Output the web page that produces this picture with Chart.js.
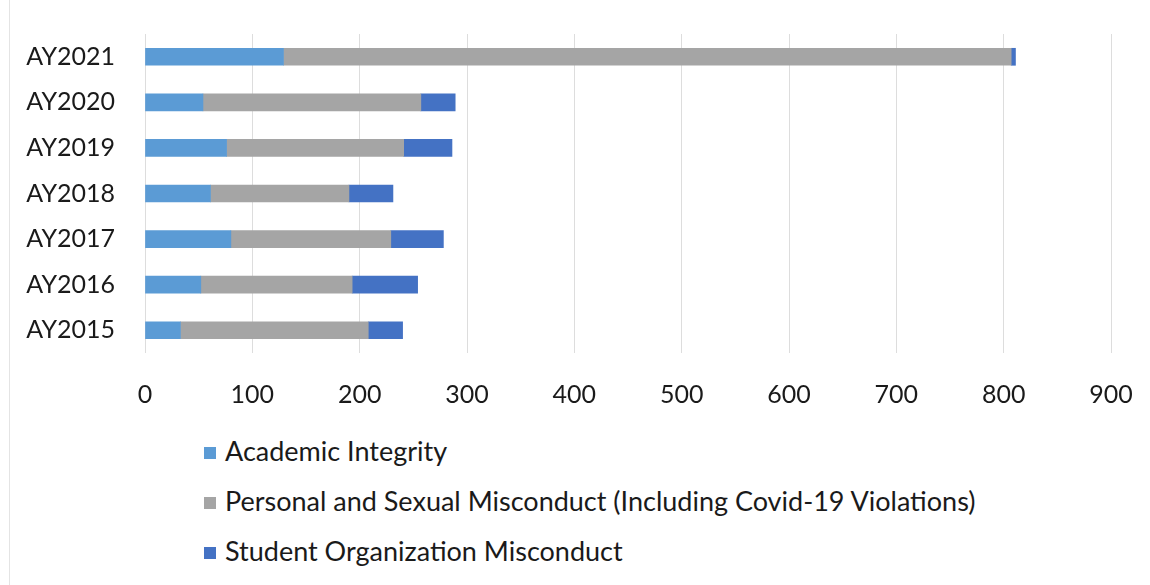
<!DOCTYPE html>
<html>
<head>
<meta charset="utf-8">
<script src="https://cdn.jsdelivr.net/npm/chart.js@4.4.0/dist/chart.umd.min.js"></script>
<style>
    html, body { margin: 0; padding: 0; background: #ffffff; }
    #wrap { position: relative; width: 1150px; height: 585px; overflow: hidden; }
    #edge { position: absolute; left: 9px; top: 0; width: 1px; height: 585px; background: #E4E4E4; }
    #chartBox { position: absolute; left: 0; top: 0; width: 1150px; height: 420px; }
    #legend { position: absolute; left: 204px; top: 426px; font-family: Lato, sans-serif; font-size: 27px; color: #1a1a1a; }
    #legend .item { height: 50px; line-height: 50px; white-space: nowrap; }
    #legend .box { display: inline-block; width: 12px; height: 12px; margin-right: 9px; vertical-align: middle; position: relative; top: -1px; }
</style>
</head>
<body>
<div id="wrap">
    <div id="edge"></div>
    <div id="chartBox"><canvas id="conductChart"></canvas></div>
    <div id="legend"></div>
</div>
<script>
const years = ['AY2021', 'AY2020', 'AY2019', 'AY2018', 'AY2017', 'AY2016', 'AY2015'];
const academicIntegrity = [129, 54, 76, 61, 80, 52, 33];
const personalMisconduct = [678, 203, 165, 129, 149, 141, 175];
const studentOrgMisconduct = [4, 32, 45, 41, 49, 61, 32];
const xTicks = [0, 100, 200, 300, 400, 500, 600, 700, 800, 900];

const seriesNames = [
    'Academic Integrity',
    'Personal and Sexual Misconduct (Including Covid-19 Violations)',
    'Student Organization Misconduct'
];
const seriesColors = ['#5B9BD5', '#A5A5A5', '#4472C4'];

document.addEventListener('DOMContentLoaded', function () {

    const ctx = document.getElementById('conductChart').getContext('2d');
    const chart = new Chart(ctx, {
        type: 'bar',
        data: {
            labels: years,
            datasets: [academicIntegrity, personalMisconduct, studentOrgMisconduct].map((vals, i) => ({
                label: seriesNames[i],
                data: vals,
                backgroundColor: seriesColors[i],
                borderWidth: 0,
                barThickness: 17
            }))
        },
        options: {
            indexAxis: 'y',
            responsive: true,
            maintainAspectRatio: false,
            animation: false,
            layout: { padding: { top: 34, right: 39, bottom: 0, left: 0 } },
            scales: {
                x: {
                    stacked: true,
                    min: 0,
                    max: 900,
                    afterBuildTicks: scale => { scale.ticks = xTicks.map(v => ({ value: v })); },
                    afterFit: scale => {
                        scale.height = 67;
                        scale.paddingLeft = 0;
                        scale.paddingRight = 0;
                    },
                    grid: { color: '#DDDDDD', lineWidth: 1, drawTicks: false },
                    border: { display: false },
                    ticks: { color: '#1a1a1a', font: { family: 'Lato', size: 25 }, padding: 27, maxRotation: 0 }
                },
                y: {
                    stacked: true,
                    afterFit: scale => {
                        scale.width = 145;
                        scale.paddingTop = 0;
                        scale.paddingBottom = 0;
                    },
                    grid: { display: false, drawTicks: false },
                    border: { display: false },
                    ticks: { color: '#1a1a1a', font: { family: 'Lato', size: 25 }, padding: 30 }
                }
            },
            plugins: {
                legend: { display: false },
                tooltip: { enabled: false }
            }
        }
    });

    // legend as a plain vertical list under the chart
    const legendEl = document.getElementById('legend');
    chart.data.datasets.forEach(ds => {
        const row = document.createElement('div');
        row.className = 'item';
        const box = document.createElement('span');
        box.className = 'box';
        box.style.background = ds.backgroundColor;
        row.appendChild(box);
        row.appendChild(document.createTextNode(ds.label));
        legendEl.appendChild(row);
    });
});
</script>
</body>
</html>
